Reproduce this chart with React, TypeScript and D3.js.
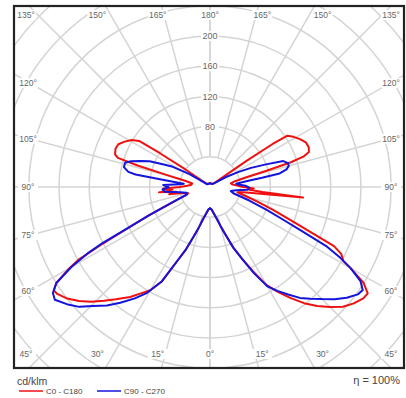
import React from "react";
import * as d3 from "d3";

// Luminous intensity distribution (cd/klm), gamma angle in degrees from nadir.
// Each half-plane runs from gamma 0 (down) to gamma 180 (up).
const c0: [number, number][] = [
  [0, 28], [4, 30], [8, 35], [12, 43], [15, 53], [18, 66], [21, 86], [24, 104],
  [27, 125], [30, 150], [33, 166], [36, 182], [39, 198], [42, 212], [45, 225],
  [48, 237], [51, 245], [54, 251], [56, 252], [58, 240], [60, 215], [61, 202],
  [63, 195], [64.5, 182], [65.5, 155], [67, 125], [70, 89], [73, 65], [76, 48],
  [79, 37], [81, 45], [83.5, 124], [84.5, 70], [86, 52], [88, 58], [90, 44],
  [93, 36], [96, 30], [100, 28], [103, 34], [105, 50], [106, 78], [107, 112],
  [108, 130], [109.5, 139], [112, 141], [115, 140], [118, 135], [121, 129],
  [123.5, 123], [124.5, 100], [125.5, 60], [127, 25], [130, 10], [140, 6],
  [160, 5], [180, 5],
];

const c180: [number, number][] = [
  [0, 28], [4, 30], [8, 35], [12, 43], [15, 54], [18, 68], [21, 88], [24, 108],
  [27, 140], [30, 158], [33, 168], [36, 180], [40, 194], [43, 206], [46, 219],
  [49, 230], [52, 240], [55, 247], [56.5, 248], [58, 240], [60, 215], [61, 200],
  [62, 165], [63.5, 118], [65, 90], [67, 62], [69, 45], [71, 34], [74, 30],
  [78, 38], [80, 55], [82, 45], [84, 68], [86, 50], [88, 62], [90, 40], [93, 30],
  [97, 25], [101, 24], [104, 33], [105.5, 60], [106.5, 100], [107.5, 128],
  [109, 133], [112, 135], [115, 134], [118, 128], [121, 121], [123, 112],
  [124, 80], [125.5, 40], [128, 15], [135, 6], [160, 5], [180, 5],
];

const c90: [number, number][] = [
  [0, 28], [4, 30], [8, 35], [12, 43], [15, 53], [18, 66], [21, 86], [24, 104],
  [27, 128], [30, 152], [33, 164], [36, 176], [39, 189], [42, 199], [45, 210],
  [48, 222], [51, 233], [54, 242], [56, 244], [58, 235], [60, 215], [61.5, 196],
  [63, 174], [64.5, 132], [66, 105], [68, 81], [71, 55], [75, 32], [79, 28],
  [83, 35], [86, 50], [89, 52], [92, 47], [95, 38], [97, 35], [99, 50],
  [100, 70], [101, 94], [103, 104], [105, 108], [107, 108], [109.5, 103],
  [112, 80], [115, 60], [118, 42], [122, 25], [128, 10], [140, 5], [180, 5],
];

const c270: [number, number][] = [
  [0, 28], [4, 30], [8, 35], [12, 43], [15, 54], [18, 68], [21, 88], [24, 108],
  [27, 140], [30.7, 163], [34, 178], [37.8, 194], [41, 208], [44.5, 221],
  [47.5, 235], [50.7, 245], [54, 254], [56, 251], [58, 240], [60, 212],
  [61.5, 185], [62.5, 160], [63.5, 120], [65, 90], [67, 62], [69, 45], [72, 32],
  [76, 32], [80, 40], [84, 60], [87, 63], [90, 55], [92.5, 62], [95, 40],
  [97, 35], [98.5, 60], [99.5, 100], [100.5, 110], [103, 117], [106, 117],
  [108, 110], [110.5, 98], [113, 87], [116, 68], [118.5, 56], [122, 32],
  [126, 12], [135, 5], [180, 5],
];

const ringValues = [40, 80, 120, 160, 200, 240, 280, 320, 360];
const ringLabelValues = [80, 120, 160, 200];
const spokeAngles = d3.range(0, 181, 15);
const labelAngles = [0, 15, 30, 45, 60, 75, 90, 105, 120, 135, 150, 165, 180];

const seriesNames = ["C0 - C180", "C90 - C270"];
const seriesColors = ["#f01010", "#1414dc"];
const unitLabel = "cd/klm";
const efficiencyLabel = "\u03B7 = 100%";

const W = 406;
const H = 398;
const frame = { x0: 14, y0: 6, x1: 404, y1: 368 };
const cx = 210;
const cy = 187;
const font = "'Liberation Sans', Arial, sans-serif";

const rad = (g: number) => (g * Math.PI) / 180;

export default function App() {
  const r = d3.scaleLinear().domain([0, 200]).range([0, 151]);

  // Right half drawn at d3 angle (PI - gamma), left half at (PI + gamma).
  const curvePath = (right: [number, number][], left: [number, number][]) => {
    const pts: [number, number][] = [
      ...right.map(([g, v]) => [Math.PI - rad(g), r(v)] as [number, number]),
      ...left
        .slice()
        .reverse()
        .map(([g, v]) => [Math.PI + rad(g), r(v)] as [number, number]),
    ];
    return d3.lineRadial().curve(d3.curveLinearClosed)(pts) ?? "";
  };

  const spokes: { x1: number; y1: number; x2: number; y2: number }[] = [];
  spokeAngles.forEach((g) => {
    [-1, 1].forEach((s) => {
      const r0 = r(40);
      const r1 = 500;
      spokes.push({
        x1: cx + s * r0 * Math.sin(rad(g)),
        y1: cy + r0 * Math.cos(rad(g)),
        x2: cx + s * r1 * Math.sin(rad(g)),
        y2: cy + r1 * Math.cos(rad(g)),
      });
    });
  });

  // Angle labels sit where each spoke meets the inner edge of the frame.
  const angleLabels: { x: number; y: number; text: string }[] = [];
  labelAngles.forEach((g) => {
    const sides = g === 0 || g === 180 ? [1] : [-1, 1];
    sides.forEach((s) => {
      let x: number;
      let y: number;
      if (g >= 135) {
        y = 15;
        x = cx + s * 195 * Math.tan(rad(180 - g));
      } else if (g <= 45) {
        y = 354;
        x = cx + s * 195 * Math.tan(rad(g));
      } else {
        x = cx + s * 182;
        y = cy + (180 * Math.cos(rad(g))) / Math.sin(rad(g));
      }
      x = Math.max(26, Math.min(391, x));
      angleLabels.push({ x, y, text: `${g}\u00B0` });
    });
  });

  const gridColor = "#d4d4d4";
  const labelColor = "#666";

  return (
    <svg
      width={W}
      height={H}
      viewBox={`0 0 ${W} ${H}`}
      style={{ position: "absolute", left: 0, top: 0, display: "block", background: "#fff" }}
    >
      <defs>
        <clipPath id="plot-clip">
          <rect x={frame.x0} y={frame.y0} width={frame.x1 - frame.x0} height={frame.y1 - frame.y0} />
        </clipPath>
      </defs>
      <rect x={0} y={0} width={W} height={H} fill="#fff" />
      <g clipPath="url(#plot-clip)">
        {ringValues.map((v) => (
          <circle key={v} cx={cx} cy={cy} r={r(v)} fill="none" stroke={gridColor} strokeWidth={1.5} />
        ))}
        {spokes.map((l, i) => (
          <line key={i} {...l} stroke={gridColor} strokeWidth={1.5} />
        ))}
        {ringLabelValues.map((v) => (
          <g key={v}>
            <rect x={cx - 9} y={cy - r(v) - 5} width={18} height={10} fill="#fff" />
            <text
              x={cx}
              y={cy - r(v)}
              dy="0.35em"
              textAnchor="middle"
              fontFamily={font}
              fontSize={9}
              fill={labelColor}
            >
              {v}
            </text>
          </g>
        ))}
        {angleLabels.map((d, i) => (
          <g key={i}>
            <rect x={d.x - 10} y={d.y - 5} width={20} height={10} fill="#fff" />
            <text
              x={d.x}
              y={d.y}
              dy="0.35em"
              textAnchor="middle"
              fontFamily={font}
              fontSize={8.5}
              fill={labelColor}
            >
              {d.text}
            </text>
          </g>
        ))}
        <g transform={`translate(${cx},${cy})`}>
          <path d={curvePath(c0, c180)} fill="none" stroke={seriesColors[0]} strokeWidth={2} strokeLinejoin="round" />
          <path d={curvePath(c90, c270)} fill="none" stroke={seriesColors[1]} strokeWidth={2} strokeLinejoin="round" />
        </g>
      </g>
      <rect
        x={frame.x0}
        y={frame.y0}
        width={frame.x1 - frame.x0}
        height={frame.y1 - frame.y0}
        fill="none"
        stroke="#222"
        strokeWidth={2.2}
      />
      <text x={17} y={385} fontFamily={font} fontSize={10.5} fill="#444">
        {unitLabel}
      </text>
      {seriesNames.map((name, i) => (
        <g key={name} transform={`translate(${19 + i * 78},391)`}>
          <line x1={0} x2={24} y1={0} y2={0} stroke={seriesColors[i]} strokeWidth={1.5} />
          <text x={27} y={0} dy="0.35em" fontFamily={font} fontSize={8} fill="#444">
            {name}
          </text>
        </g>
      ))}
      <text x={400} y={380} dy="0.35em" textAnchor="end" fontFamily={font} fontSize={11} fill="#444">
        {efficiencyLabel}
      </text>
    </svg>
  );
}
